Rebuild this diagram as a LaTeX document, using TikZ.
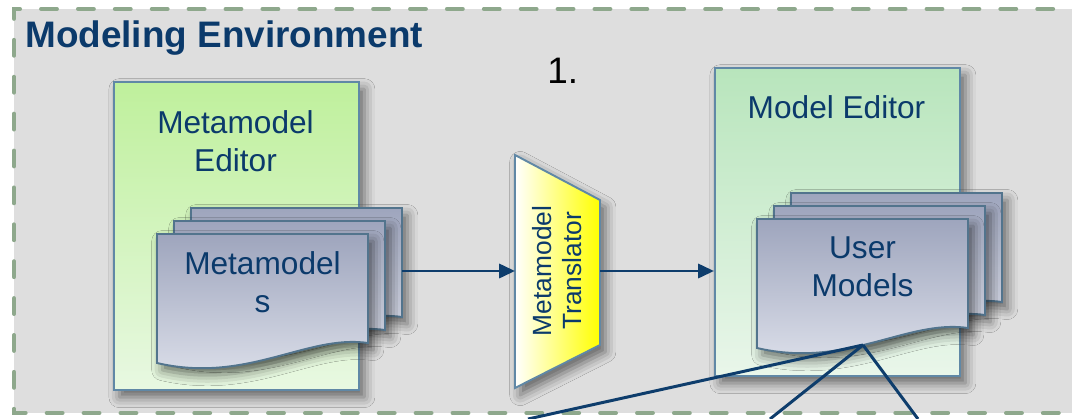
\documentclass[tikz,border=0pt]{standalone}
\usepackage{fontspec}
\setmainfont{Liberation Sans}
\usetikzlibrary{arrows.meta,shadows.blur}

\definecolor{navy}{HTML}{0B3A6B}
\definecolor{framegray}{HTML}{DEDEDE}
\definecolor{dashgreen}{HTML}{8EA88C}
\definecolor{edgeblue}{HTML}{6088A6}
\definecolor{arrowblue}{HTML}{0E3D6C}
\definecolor{pagetop}{HTML}{9EA5BD}
\definecolor{pagebottom}{HTML}{DEE1EB}
\definecolor{mmtop}{HTML}{BFF09C}
\definecolor{mmbottom}{HTML}{E8F8E2}
\definecolor{metop}{HTML}{B8E5BC}
\definecolor{mebottom}{HTML}{E9F6EA}

\tikzset{
  boxshadow/.style={blur shadow={shadow xshift=3pt, shadow yshift=-4pt, shadow blur radius=6pt, shadow opacity=55}},
  editorbox/.style={draw=edgeblue, line width=1.3pt, boxshadow, inner sep=0pt,
    minimum width=4.9cm, minimum height=6.16cm, anchor=north west},
  pagebox/.style={draw=edgeblue!85!black, line width=1.1pt, top color=pagetop, bottom color=pagebottom, boxshadow},
  boxtext/.style={text=navy, align=center, inner sep=0pt, font=\fontsize{18}{21.5}\selectfont},
  flow/.style={draw=arrowblue, line width=1.7pt, -{Triangle[length=9pt,width=8pt]}},
  link/.style={draw=arrowblue, line width=1.7pt},
  pics/docpage/.style={code={
    \path[pagebox] (0,0) -- (211,0) -- (211,109)
      .. controls (150,100) and (90,150) .. (0,129) -- cycle;
    \coordinate (-east) at (211,63);
    \coordinate (-tip) at (106,126);
  }}
}

\begin{document}
\begin{tikzpicture}[x=0.02cm,y=-0.02cm]
  \useasboundingbox (0,0) rectangle (1072,419);

  % Environment frame
  \fill[framegray] (14,9) rectangle (1090,413);
  \draw[dashgreen, line width=2.3pt, line cap=round, dash pattern=on 9pt off 12pt]
    (1090,9) -- (14,9) -- (14,413) -- (1090,413);
  \node[anchor=base west, inner sep=0pt, text=navy, font=\bfseries\fontsize{21}{25}\selectfont] (title) at (25,48) {Modeling Environment};
  \node[anchor=base west, inner sep=0pt, font=\fontsize{21}{25}\selectfont] (stepno) at (547,83) {1.};

  % Editors
  \node[editorbox, top color=mmtop, bottom color=mmbottom] (mmeditor) at (113,81) {};
  \node[boxtext] (mmeditortext) at (235.5,141) {Metamodel\\Editor};
  \node[editorbox, top color=metop, bottom color=mebottom] (modeleditor) at (714,67) {};
  \node[boxtext] (modeleditortext) at (836.5,107) {Model Editor};

  % Metamodels stack
  \pic (mmback) at (191,208) {docpage};
  \pic (mmmid) at (174,221) {docpage};
  \pic (mm) at (157,234) {docpage};
  \node[boxtext] (mmtext) at (262.5,282) {Metamodel\\s};

  % User models stack
  \pic (umback) at (791,193) {docpage};
  \pic (ummid) at (774,206) {docpage};
  \pic (um) at (757,219) {docpage};
  \node[boxtext] (umtext) at (862.5,266.5) {User\\Models};

  % Translator
  \path[draw=edgeblue, line width=1.1pt, left color=white, right color=yellow, boxshadow]
    (515,155) -- (600,200) -- (600,345) -- (515,388) -- cycle;
  \coordinate (trans-west) at (515,271);
  \coordinate (trans-east) at (600,271);
  \node[boxtext, rotate=90, font=\fontsize{15}{17}\selectfont] (transtext) at (557,271) {Metamodel\\Translator};

  % Flow
  \draw[flow] (mmback-east |- trans-west) -- (trans-west);
  \draw[flow] (trans-east) -- (trans-east -| modeleditor.west);

  % Links out of the user models
  \coordinate (linkA) at (528,419);
  \coordinate (linkB) at (770,419);
  \coordinate (linkC) at (918,419);
  \draw[link] (um-tip) -- (linkA);
  \draw[link] (um-tip) -- (linkB);
  \draw[link] (um-tip) -- (linkC);
\end{tikzpicture}
\end{document}
